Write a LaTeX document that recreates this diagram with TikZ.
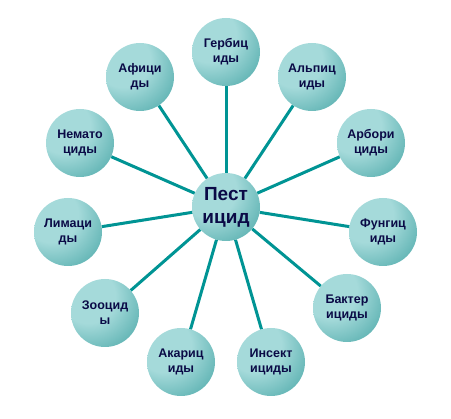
\documentclass[tikz,border=0pt]{standalone}
\usepackage{fontspec}
\setmainfont{Liberation Sans}
\usepackage{tikz}
\usetikzlibrary{positioning}
\definecolor{pestlight}{RGB}{165,218,218}
\definecolor{pestdark}{RGB}{25,140,140}
\definecolor{pestline}{RGB}{0,148,148}
\definecolor{pesttext}{RGB}{10,10,70}
\pgfdeclareradialshading{pestball}{\pgfpoint{-16bp}{16bp}}{%
  color(0bp)=(pestlight); color(20bp)=(pestlight);
  color(38bp)=(pestlight!55!pestdark); color(52bp)=(pestdark); color(90bp)=(pestdark)}
\tikzset{
  ballbox/.style={circle, shading=pestball, minimum size=68pt, inner sep=0pt,
    align=center, text=pesttext, font=\bfseries\fontsize{12.5}{15}\selectfont},
  hubbox/.style={ballbox, font=\bfseries\fontsize{19}{23}\selectfont},
  spoke/.style={line width=3pt, pestline},
}
\begin{document}
\begin{tikzpicture}[x=1pt, y=-1pt]
  \useasboundingbox (0,0) rectangle (451,419);

  % Centre
  \node[hubbox] (pest) at (226,207) {Пест\\ицид};

  % Outer circles, clockwise from the top
  \node[ballbox] (gerb)  at (226,52)  {Гербиц\\иды};
  \node[ballbox] (alp)   at (312,77)  {Альпиц\\иды};
  \node[ballbox] (arbor) at (371,143) {Арбори\\циды};
  \node[ballbox] (fung)  at (383,232) {Фунгиц\\иды};
  \node[ballbox] (bakt)  at (347,308) {Бактер\\ициды};
  \node[ballbox] (insek) at (271,362) {Инсект\\ициды};
  \node[ballbox] (akar)  at (181,362) {Акариц\\иды};
  \node[ballbox] (zoo)   at (105,313) {Зооцид\\ы};
  \node[ballbox] (lim)   at (68,232)  {Лимаци\\ды};
  \node[ballbox] (nemat) at (80,143)  {Немато\\циды};
  \node[ballbox] (afic)  at (140,77)  {Афици\\ды};

  % Spokes
  \foreach \leaf in {gerb,alp,arbor,fung,bakt,insek,akar,zoo,lim,nemat,afic}
    \draw[spoke] (pest) -- (\leaf);
\end{tikzpicture}
\end{document}
